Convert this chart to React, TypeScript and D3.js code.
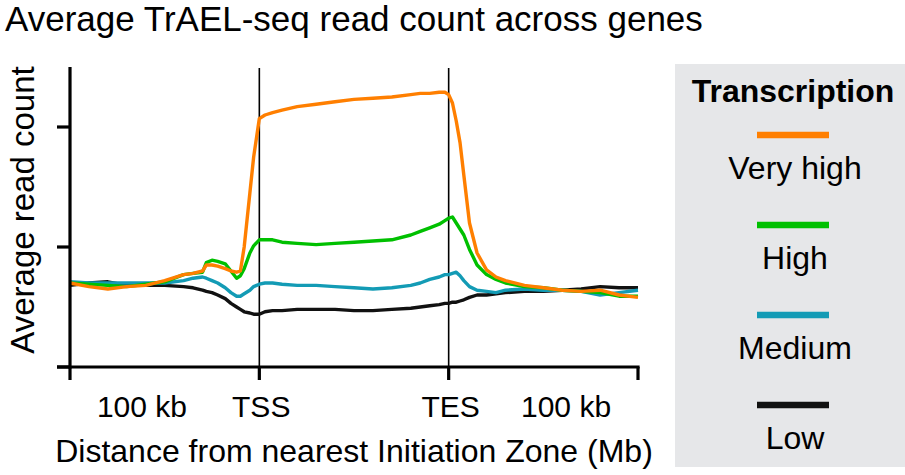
import * as d3 from "d3";

// positions along the metagene: 0-100 upstream flank, 100-200 gene body (TSS→TES), 200-300 downstream flank
const positions = [
  0, 10, 20, 30, 40, 50, 60, 65, 70, 72, 75, 78, 82, 85, 88, 90, 92, 95, 97, 100,
  103, 107, 112, 120, 130, 140, 150, 160, 170, 180, 185, 190, 195, 198, 200, 202,
  204, 206, 208, 211, 215, 220, 225, 230, 240, 250, 260, 270, 280, 290, 300,
];

const veryHigh = [
  0.70, 0.67, 0.65, 0.67, 0.68, 0.72, 0.77, 0.78, 0.80, 0.85, 0.85, 0.84, 0.82, 0.80, 0.79, 0.80, 1.0, 1.45, 1.75, 2.07,
  2.10, 2.12, 2.14, 2.17, 2.19, 2.21, 2.23, 2.24, 2.25, 2.27, 2.28, 2.28, 2.29, 2.29, 2.27, 2.20,
  2.05, 1.87, 1.60, 1.20, 0.95, 0.81, 0.75, 0.72, 0.68, 0.66, 0.64, 0.63, 0.64, 0.60, 0.58,
];

const high = [
  0.70, 0.69, 0.68, 0.67, 0.69, 0.71, 0.77, 0.78, 0.79, 0.87, 0.89, 0.88, 0.86, 0.80, 0.74, 0.76, 0.82, 0.95, 1.01, 1.06,
  1.06, 1.06, 1.04, 1.03, 1.02, 1.03, 1.04, 1.05, 1.06, 1.10, 1.13, 1.16, 1.19, 1.22, 1.24, 1.25,
  1.20, 1.15, 1.10, 0.98, 0.85, 0.77, 0.73, 0.70, 0.67, 0.66, 0.64, 0.63, 0.62, 0.59, 0.59,
];

const medium = [
  0.71, 0.70, 0.70, 0.70, 0.70, 0.70, 0.72, 0.74, 0.75, 0.74, 0.72, 0.70, 0.66, 0.62, 0.59, 0.59, 0.61, 0.64, 0.67, 0.69,
  0.70, 0.70, 0.69, 0.68, 0.68, 0.67, 0.66, 0.65, 0.66, 0.68, 0.70, 0.73, 0.75, 0.77, 0.77, 0.78,
  0.79, 0.76, 0.72, 0.67, 0.64, 0.63, 0.62, 0.64, 0.65, 0.64, 0.64, 0.63, 0.60, 0.62, 0.64,
];

const low = [
  0.68, 0.70, 0.71, 0.68, 0.68, 0.68, 0.67, 0.66, 0.64, 0.63, 0.62, 0.60, 0.57, 0.53, 0.50, 0.48, 0.46, 0.45, 0.44, 0.44,
  0.46, 0.47, 0.47, 0.48, 0.48, 0.48, 0.47, 0.47, 0.48, 0.49, 0.50, 0.51, 0.52, 0.53, 0.53, 0.54,
  0.54, 0.55, 0.56, 0.58, 0.60, 0.60, 0.61, 0.62, 0.63, 0.63, 0.64, 0.65, 0.67, 0.66, 0.66,
];

const seriesNames = ["Very high", "High", "Medium", "Low"];
const seriesColors = ["#ff7f00", "#00c000", "#139bb5", "#111111"];
const seriesValues = [veryHigh, high, medium, low];

const xTicks = [0, 100, 200, 300];
const yTicks = [0, 1, 2];
const xLabels = [
  { pos: 38, text: "100 kb" },
  { pos: 101, text: "TSS" },
  { pos: 201, text: "TES" },
  { pos: 262, text: "100 kb" },
];
const markers = [100, 200];

const font = "'Liberation Sans', Arial, sans-serif";

export default function App() {
  const width = 905;
  const height = 475;
  const plot = { left: 70, right: 638, top: 67, bottom: 367 };

  const x = d3.scaleLinear().domain([0, 300]).range([plot.left, plot.right]);
  const y = d3.scaleLinear().domain([0, 2.5]).range([plot.bottom, plot.top]);

  const line = d3
    .line<number>()
    .x((_, i) => x(positions[i]))
    .y((d) => y(d));

  // draw low first so the coloured lines sit on top like the reference
  const order = [3, 2, 1, 0];

  return (
    <svg
      width={width}
      height={height}
      style={{ position: "absolute", left: 0, top: 0, background: "#fff" }}
      fontFamily={font}
    >
      <text x={5} y={31} fontSize={35} fill="#000">
        Average TrAEL-seq read count across genes
      </text>

      {/* TSS / TES markers */}
      {markers.map((m) => (
        <line key={m} x1={x(m)} x2={x(m)} y1={plot.top + 1} y2={plot.bottom} stroke="#000" strokeWidth={1.6} />
      ))}

      {order.map((k) => (
        <path
          key={seriesNames[k]}
          d={line(seriesValues[k]) ?? ""}
          fill="none"
          stroke={seriesColors[k]}
          strokeWidth={3.4}
          strokeLinejoin="round"
        />
      ))}

      {/* axes */}
      <line x1={plot.left} x2={plot.left} y1={plot.top} y2={plot.bottom + 1.5} stroke="#000" strokeWidth={3.2} />
      {yTicks.map((t) => (
        <line key={t} x1={plot.left - 13} x2={plot.left} y1={y(t)} y2={y(t)} stroke="#000" strokeWidth={3.2} />
      ))}
      <line x1={plot.left - 13} x2={plot.right + 1.6} y1={plot.bottom} y2={plot.bottom} stroke="#000" strokeWidth={3.2} />
      {xTicks.map((t) => (
        <line key={t} x1={x(t)} x2={x(t)} y1={plot.bottom} y2={plot.bottom + 13} stroke="#000" strokeWidth={3.2} />
      ))}

      {xLabels.map((l) => (
        <text key={l.text + l.pos} x={x(l.pos)} y={417} fontSize={30} textAnchor="middle" fill="#000">
          {l.text}
        </text>
      ))}
      <text x={354} y={462} fontSize={32} textAnchor="middle" fill="#000">
        Distance from nearest Initiation Zone (Mb)
      </text>
      <text transform="translate(34,210) rotate(-90)" fontSize={33} textAnchor="middle" fill="#000">
        Average read count
      </text>

      {/* legend */}
      <rect x={675} y={64} width={230} height={403} fill="#e6e7e9" />
      <text x={793} y={102} fontSize={32} fontWeight="bold" textAnchor="middle" fill="#000">
        Transcription
      </text>
      {seriesNames.map((name, i) => {
        const top = 135 + i * 90;
        return (
          <g key={name}>
            <line x1={757} x2={829} y1={top} y2={top} stroke={seriesColors[i]} strokeWidth={6.5} />
            <text x={795} y={top + 44} fontSize={32} textAnchor="middle" fill="#000">
              {name}
            </text>
          </g>
        );
      })}
    </svg>
  );
}
